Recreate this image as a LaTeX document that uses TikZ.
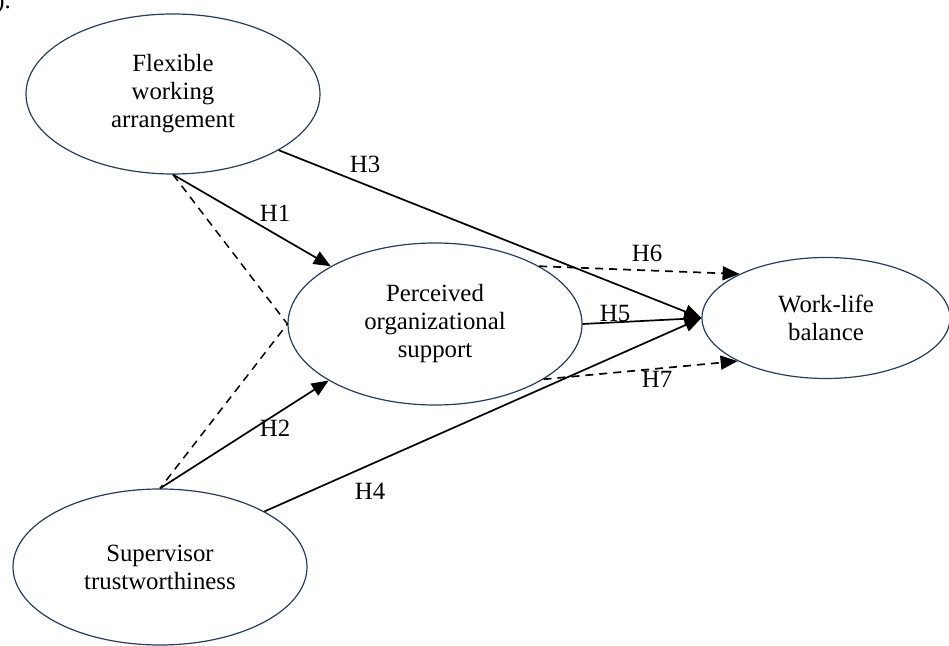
\documentclass[tikz,border=0pt]{standalone}
\usepackage{fontspec}
\setmainfont{Liberation Serif}
\usetikzlibrary{shapes.geometric,arrows.meta}
\definecolor{ellcol}{RGB}{38,60,92}
\begin{document}
\begin{tikzpicture}[x=0.5pt,y=-0.5pt,
  construct/.style={draw=ellcol,line width=0.6pt,ellipse,inner sep=0pt,align=center,
    font=\fontsize{12.4pt}{14pt}\selectfont},
  path/.style={line width=0.85pt,-{Triangle[length=8.5pt,width=7pt]}},
  dpath/.style={path,dash pattern=on 4pt off 3pt},
  mod/.style={line width=0.75pt,dash pattern=on 4pt off 3pt},
  hlab/.style={font=\fontsize{12.4pt}{14pt}\selectfont,inner sep=0pt}]
\useasboundingbox (0,0) rectangle (949,646);
\node[hlab,anchor=base west] (frag) at (-4,9) {).};
\node[construct,minimum width=147pt,minimum height=80pt] (fwa) at (173,94) {Flexible\\working\\arrangement};
\node[construct,minimum width=147pt,minimum height=81pt] (pos) at (435,324) {Perceived\\organizational\\support};
\node[construct,minimum width=124pt,minimum height=60.5pt] (wlb) at (826,318) {Work-life\\balance};
\node[construct,minimum width=147pt,minimum height=78pt] (st) at (160,567) {Supervisor\\trustworthiness};
% moderation (dashed, no arrows)
\draw[mod] (fwa.-90) -- (pos.180) -- (st.90);
% paths
\draw[path] (fwa.-90) -- (pos.151);
\draw[path] (st.90) -- (pos.208);
\draw[path] (fwa.-28) -- (wlb.180);
\draw[path] (st.28) -- (wlb.180);
\draw[path] (pos.0) -- (wlb.180);
\draw[dpath] (pos.29) -- (wlb.153);
\draw[dpath] (pos.-27) -- (wlb.-154);
% labels
\node[hlab] (h3) at (365,164) {H3};
\node[hlab] (h1) at (275,213) {H1};
\node[hlab] (h6) at (647,253) {H6};
\node[hlab] (h5) at (615,314) {H5};
\node[hlab] (h7) at (657,379) {H7};
\node[hlab] (h2) at (275,428) {H2};
\node[hlab] (h4) at (370,491) {H4};
\end{tikzpicture}
\end{document}
